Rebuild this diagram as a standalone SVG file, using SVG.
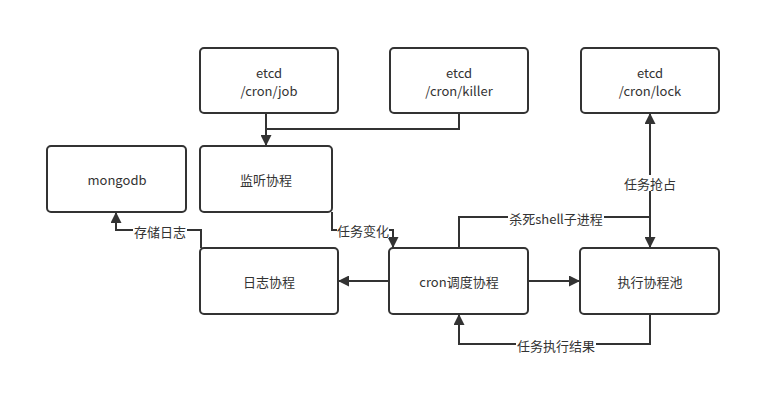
<svg xmlns="http://www.w3.org/2000/svg" width="781" height="406" viewBox="0 0 781 406">
<style>
.box{fill:#fff;stroke:#333;stroke-width:2}
.t{font-family:"Noto Sans CJK SC","Microsoft YaHei",sans-serif;font-size:13px;fill:#333;text-anchor:middle;dominant-baseline:central}
.c{fill:none;stroke:#333;stroke-width:2}
.lb{fill:#fff}
</style>
<defs>
<marker id="ah" viewBox="0 0 10 10" refX="10" refY="5" markerWidth="11" markerHeight="11" markerUnits="userSpaceOnUse" orient="auto">
<path d="M0,0 L10,5 L0,10 Z" fill="#333"/>
</marker>
<marker id="as" viewBox="0 0 10 10" refX="0" refY="5" markerWidth="11" markerHeight="11" markerUnits="userSpaceOnUse" orient="auto">
<path d="M10,0 L0,5 L10,10 Z" fill="#333"/>
</marker>
</defs>
<rect width="781" height="406" fill="#fff"/>
<g id="connectors">
<path class="c" d="M266,113 V146" marker-end="url(#ah)"/>
<path class="c" d="M459,113 V129 H266"/>
<path class="c" d="M332,212 V230 H393 V248" marker-end="url(#ah)"/>
<path class="c" d="M201,248 V230 H116 V212" marker-end="url(#ah)"/>
<path class="c" d="M389,281 H338" marker-end="url(#ah)"/>
<path class="c" d="M528,281 H580" marker-end="url(#ah)"/>
<path class="c" d="M459,248 V217 H650"/>
<path class="c" d="M650,113 V248" marker-start="url(#as)" marker-end="url(#ah)"/>
<path class="c" d="M650,314 V344 H459 V314" marker-end="url(#ah)"/>
<rect class="lb" x="337" y="222" width="52" height="16"/>
<text class="t" x="363" y="230">任务变化</text>
<rect class="lb" x="133" y="222" width="54" height="16"/>
<text class="t" x="160" y="231">存储日志</text>
<rect class="lb" x="508" y="209" width="96" height="16"/>
<text class="t" x="556" y="218">杀死shell子进程</text>
<rect class="lb" x="623" y="175" width="54" height="16"/>
<text class="t" x="650" y="183">任务抢占</text>
<rect class="lb" x="516" y="336" width="80" height="16"/>
<text class="t" x="556" y="345">任务执行结果</text>
</g>
<g id="n-job"><rect class="box" x="200" y="48" width="138" height="65" rx="4"/><text class="t" x="269" y="72">etcd</text><text class="t" x="269" y="90">/cron/job</text></g>
<g id="n-killer"><rect class="box" x="390" y="48" width="138" height="65" rx="4"/><text class="t" x="459" y="72">etcd</text><text class="t" x="459" y="90">/cron/killer</text></g>
<g id="n-lock"><rect class="box" x="581" y="48" width="138" height="65" rx="4"/><text class="t" x="650" y="72">etcd</text><text class="t" x="650" y="90">/cron/lock</text></g>
<g id="n-mongodb"><rect class="box" x="47" y="146" width="139" height="66" rx="4"/><text class="t" x="117" y="179">mongodb</text></g>
<g id="n-watch"><rect class="box" x="200" y="146" width="132" height="66" rx="4"/><text class="t" x="266" y="179">监听协程</text></g>
<g id="n-log"><rect class="box" x="200" y="248" width="138" height="66" rx="4"/><text class="t" x="269" y="281">日志协程</text></g>
<g id="n-sched"><rect class="box" x="389" y="248" width="139" height="66" rx="4"/><text class="t" x="459" y="281">cron调度协程</text></g>
<g id="n-exec"><rect class="box" x="580" y="248" width="139" height="66" rx="4"/><text class="t" x="650" y="281">执行协程池</text></g>
</svg>
